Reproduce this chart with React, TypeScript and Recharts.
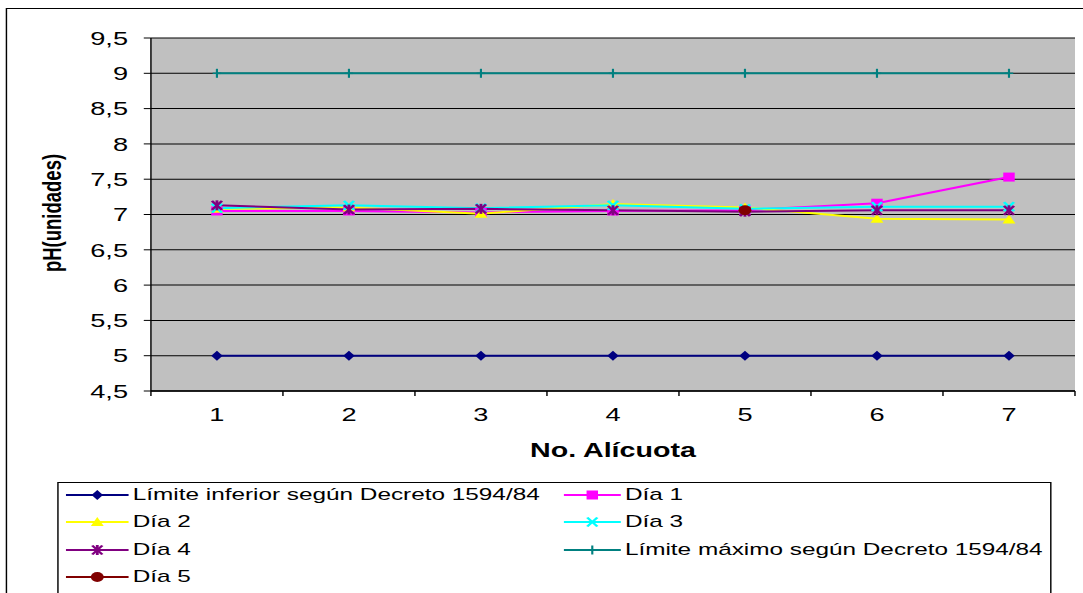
import React from "react";
import {
  CartesianGrid,
  Label,
  Line,
  LineChart,
  XAxis,
  YAxis,
} from "recharts";

// the reference is a horizontally stretched picture, so the chart is drawn
// narrower and stretched with a CSS transform
const W = 757;
const H = 593;
const SX = 1083 / W;
const FONT = "'Liberation Sans', Arial, sans-serif";
const MARGIN = { top: 38, right: 5.6, bottom: 132, left: 30.5 };
const Y_AXIS_W = 75;
const TICK_SIZE = 5;
const TICK_MARGIN = 12;

const alicuotas = ["1", "2", "3", "4", "5", "6", "7"];
const limiteInferior = [5, 5, 5, 5, 5, 5, 5];
const dia1 = [7.05, 7.05, 7.03, 7.05, 7.06, 7.16, 7.53];
const dia2 = [7.08, 7.1, 7.01, 7.15, 7.1, 6.94, 6.93];
const dia3 = [7.09, 7.13, 7.09, 7.13, 7.08, 7.11, 7.11];
const dia4 = [7.13, 7.07, 7.08, 7.06, 7.04, 7.06, 7.06];
const limiteMaximo = [9, 9, 9, 9, 9, 9, 9];
const dia5 = [null, null, null, null, 7.06, null, null];

const yTicks = [4.5, 5, 5.5, 6, 6.5, 7, 7.5, 8, 8.5, 9, 9.5];

type Shape = "diamond" | "square" | "triangle" | "x" | "star" | "plus" | "circle";

const series: { key: string; name: string; color: string; shape: Shape; values: (number | null)[] }[] = [
  { key: "inferior", name: "Límite inferior según Decreto 1594/84", color: "#000080", shape: "diamond", values: limiteInferior },
  { key: "dia1", name: "Día 1", color: "#FF00FF", shape: "square", values: dia1 },
  { key: "dia2", name: "Día 2", color: "#FFFF00", shape: "triangle", values: dia2 },
  { key: "dia3", name: "Día 3", color: "#00FFFF", shape: "x", values: dia3 },
  { key: "dia4", name: "Día 4", color: "#800080", shape: "star", values: dia4 },
  { key: "maximo", name: "Límite máximo según Decreto 1594/84", color: "#008080", shape: "plus", values: limiteMaximo },
  { key: "dia5", name: "Día 5", color: "#800000", shape: "circle", values: dia5 },
];

const data = alicuotas.map((a, i) => {
  const row: Record<string, string | number | null> = { alicuota: a };
  series.forEach((s) => {
    row[s.key] = s.values[i];
  });
  return row;
});

// half of one category band, for the Excel-style ticks between categories
const plotWidth = W - MARGIN.left - MARGIN.right - Y_AXIS_W;
const HALF_BAND = plotWidth / alicuotas.length / 2;

function CategoryTick(props: any) {
  const { x, y, payload, index } = props;
  const axisY = y - TICK_SIZE - TICK_MARGIN;
  const last = index === alicuotas.length - 1;
  return (
    <g>
      <line x1={x - HALF_BAND} y1={axisY} x2={x - HALF_BAND} y2={axisY + TICK_SIZE} stroke="#000" />
      {last && <line x1={x + HALF_BAND} y1={axisY} x2={x + HALF_BAND} y2={axisY + TICK_SIZE} stroke="#000" />}
      <text x={x} y={y} dy="0.71em" textAnchor="middle" fill="#000" fontSize={19} fontFamily={FONT}>
        {payload.value}
      </text>
    </g>
  );
}

function Marker({ shape, color, cx, cy }: { shape: Shape; color: string; cx: number; cy: number }) {
  switch (shape) {
    case "diamond":
      return <polygon points={`${cx},${cy - 5} ${cx + 4},${cy} ${cx},${cy + 5} ${cx - 4},${cy}`} fill={color} />;
    case "square":
      return <rect x={cx - 4} y={cy - 4.5} width={8} height={9} fill={color} />;
    case "triangle":
      return <polygon points={`${cx},${cy - 5} ${cx + 4.5},${cy + 4} ${cx - 4.5},${cy + 4}`} fill={color} />;
    case "x":
      return (
        <g stroke={color} strokeWidth={2}>
          <line x1={cx - 3.5} y1={cy - 4.5} x2={cx + 3.5} y2={cy + 4.5} />
          <line x1={cx - 3.5} y1={cy + 4.5} x2={cx + 3.5} y2={cy - 4.5} />
        </g>
      );
    case "star":
      return (
        <g stroke={color} strokeWidth={2}>
          <line x1={cx - 3.5} y1={cy - 4.5} x2={cx + 3.5} y2={cy + 4.5} />
          <line x1={cx - 3.5} y1={cy + 4.5} x2={cx + 3.5} y2={cy - 4.5} />
          <line x1={cx} y1={cy - 5} x2={cx} y2={cy + 5} />
        </g>
      );
    case "plus":
      return (
        <g stroke={color} strokeWidth={1.5}>
          <line x1={cx} y1={cy - 4.5} x2={cx} y2={cy + 4.5} />
          <line x1={cx - 3} y1={cy} x2={cx + 3} y2={cy} />
        </g>
      );
    case "circle":
      return <ellipse cx={cx} cy={cy} rx={4.5} ry={5} fill={color} />;
  }
}

const makeDot = (shape: Shape, color: string) => (props: any) => {
  const { cx, cy, index, value } = props;
  if (cx == null || cy == null || value == null) return <g key={index} />;
  return (
    <g key={index}>
      <Marker shape={shape} color={color} cx={cx} cy={cy} />
    </g>
  );
};

function LegendBox() {
  return (
    <div
      style={{
        position: "absolute",
        left: 39.8,
        top: 482,
        width: 695,
        height: 115,
        border: "1px solid #000",
        background: "#fff",
        boxSizing: "border-box",
        fontFamily: FONT,
        fontSize: 17,
        color: "#000",
      }}
    >
      {series.map((s, i) => {
        const col = i % 2;
        const row = Math.floor(i / 2);
        const lineW = col === 0 ? 44 : 40;
        return (
          <div
            key={s.key}
            style={{
              position: "absolute",
              left: col === 0 ? 5 : 353,
              top: 12 + row * 27.3 - 10,
              height: 20,
              display: "flex",
              alignItems: "center",
              whiteSpace: "nowrap",
            }}
          >
            <svg width={lineW} height={20} style={{ marginRight: 3 }}>
              <line x1={0} y1={10} x2={lineW} y2={10} stroke={s.color} strokeWidth={2} />
              <Marker shape={s.shape} color={s.color} cx={lineW / 2} cy={10} />
            </svg>
            <span>{s.name}</span>
          </div>
        );
      })}
    </div>
  );
}

export default function App() {
  return (
    <div
      style={{
        position: "absolute",
        left: 0,
        top: 0,
        width: W,
        height: H,
        overflow: "hidden",
        background: "#fff",
        transform: `scaleX(${SX})`,
        transformOrigin: "0 0",
      }}
    >
      <div
        style={{
          position: "absolute",
          left: 4.2,
          top: 8,
          width: W,
          height: H,
          border: "1px solid #000",
        }}
      />
      <LineChart
        width={W}
        height={H}
        data={data}
        margin={MARGIN}
        style={{ fontFamily: FONT, position: "absolute", left: 0, top: 0 }}
      >
        <CartesianGrid vertical={false} stroke="#000" fill="#C0C0C0" />
        <XAxis
          dataKey="alicuota"
          padding={{ left: HALF_BAND, right: HALF_BAND }}
          axisLine={{ stroke: "#000", strokeWidth: 1.5 }}
          tickLine={false}
          tickSize={TICK_SIZE}
          tickMargin={TICK_MARGIN}
          height={70}
          interval={0}
          tick={<CategoryTick />}
        >
          <Label
            value="No. Alícuota"
            position="insideBottom"
            offset={4}
            style={{ fill: "#000", fontSize: 20, fontWeight: "bold", fontFamily: FONT }}
          />
        </XAxis>
        <YAxis
          type="number"
          domain={[4.5, 9.5]}
          ticks={yTicks}
          width={Y_AXIS_W}
          tickSize={5}
          tickMargin={11}
          axisLine={{ stroke: "#000" }}
          tickLine={{ stroke: "#000" }}
          tick={{ fill: "#000", fontSize: 19, fontFamily: FONT }}
          tickFormatter={(v: number) => String(v).replace(".", ",")}
        >
          <Label
            content={() => (
              <text
                x={36.3}
                y={213}
                transform="rotate(-90, 36.3, 213)"
                textAnchor="middle"
                dominantBaseline="central"
                fontFamily={FONT}
                fontSize={18.5}
                fontWeight="bold"
                fill="#000"
              >
                pH(unidades)
              </text>
            )}
          />
        </YAxis>
        <YAxis
          yAxisId="frame"
          orientation="right"
          width={0}
          tick={false}
          tickLine={false}
          axisLine={{ stroke: "#808080" }}
        />
        {series.map((s) => (
          <Line
            key={s.key}
            dataKey={s.key}
            name={s.name}
            stroke={s.color}
            strokeWidth={2}
            dot={makeDot(s.shape, s.color)}
            activeDot={false}
            isAnimationActive={false}
          />
        ))}
      </LineChart>
      <LegendBox />
    </div>
  );
}
